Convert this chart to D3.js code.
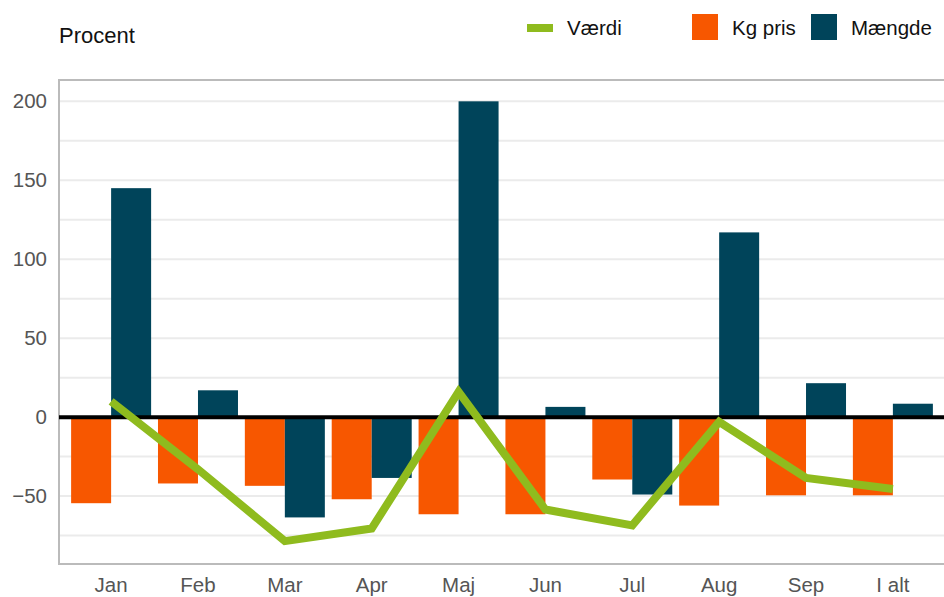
<!DOCTYPE html>
<html>
<head>
<meta charset="utf-8">
<script src="https://cdn.jsdelivr.net/npm/d3@7"></script>
<style>
	body { margin: 0; background: #fff; }
	text { font-family: "Liberation Sans", Arial, sans-serif; }
</style>
</head>
<body>
<svg id="chart" width="944" height="597"></svg>
<script>
let months = ["Jan", "Feb", "Mar", "Apr", "Maj", "Jun", "Jul", "Aug", "Sep", "I alt"];
let kgPris = [-54.5, -42, -43.5, -52, -61.5, -61.5, -39.5, -56, -49.5, -49.5];
let maengde = [145, 17, -63.5, -38.5, 200, 6.5, -49, 117, 21.5, 8.5];
let vaerdi = [10, -33, -78.5, -70.5, 16, -58.5, -68.5, -3, -38.5, -45.5];
let yTicks = [-50, 0, 50, 100, 150, 200];
let gridTicks = [-75, -50, -25, 0, 25, 50, 75, 100, 125, 150, 175, 200];

let svg = d3.select("#chart");

let plotLeft = 59, plotRight = 945, plotTop = 80, plotBottom = 564;

let x = d3.scaleBand().domain(months).range([plotLeft, plotRight]).paddingInner(0).paddingOuter(0.1);
let center = function(d) { return x(d) + x.bandwidth() / 2; };
let barW = 40;

let y = d3.scaleLinear().domain([-93, 213.5]).range([plotBottom, plotTop]);

// grid
svg.append("g").selectAll("line").data(gridTicks).enter().append("line")
	.attr("x1", plotLeft).attr("x2", 944)
	.attr("y1", function(d) { return y(d); }).attr("y2", function(d) { return y(d); })
	.attr("stroke", "#ebebeb").attr("stroke-width", 2);

// frame
svg.append("line").attr("x1", plotLeft).attr("x2", 944).attr("y1", plotTop).attr("y2", plotTop).attr("stroke", "#bbb").attr("stroke-width", 2);
svg.append("line").attr("x1", plotLeft).attr("x2", 944).attr("y1", plotBottom).attr("y2", plotBottom).attr("stroke", "#bbb").attr("stroke-width", 2);
svg.append("line").attr("x1", plotLeft).attr("x2", plotLeft).attr("y1", plotTop - 1).attr("y2", plotBottom + 1).attr("stroke", "#bbb").attr("stroke-width", 2);

// y axis labels
let yAxis = d3.axisLeft(y).tickValues(yTicks).tickSize(0).tickPadding(12)
	.tickFormat(function(d) { return d < 0 ? "\u2212" + Math.abs(d) : d; });
let yg = svg.append("g").attr("transform", "translate(" + plotLeft + ",0)").call(yAxis);
yg.select(".domain").remove();
yg.selectAll("text").attr("font-size", 20.5).attr("fill", "#555").attr("font-family", "Liberation Sans, Arial, sans-serif");

// x axis labels
let xAxis = d3.axisBottom(x).tickSize(0).tickPadding(13);
let xg = svg.append("g").attr("transform", "translate(0," + plotBottom + ")").call(xAxis);
xg.select(".domain").remove();
xg.selectAll("text").attr("font-size", 20.5).attr("fill", "#555").attr("font-family", "Liberation Sans, Arial, sans-serif");

// bars
let bars = svg.append("g");
bars.selectAll(".kg").data(months).enter().append("rect").attr("class", "kg")
	.attr("x", function(d) { return center(d) - barW; })
	.attr("width", barW)
	.attr("y", function(d, i) { return y(Math.max(0, kgPris[i])); })
	.attr("height", function(d, i) { return Math.abs(y(kgPris[i]) - y(0)); })
	.attr("fill", "#f75700");
bars.selectAll(".m").data(months).enter().append("rect").attr("class", "m")
	.attr("x", function(d) { return center(d); })
	.attr("width", barW)
	.attr("y", function(d, i) { return y(Math.max(0, maengde[i])); })
	.attr("height", function(d, i) { return Math.abs(y(maengde[i]) - y(0)); })
	.attr("fill", "#00445a");

// zero line
svg.append("line").attr("x1", plotLeft).attr("x2", 944).attr("y1", y(0)).attr("y2", y(0)).attr("stroke", "#000").attr("stroke-width", 4);

// line
let line = d3.line().x(function(d, i) { return center(months[i]); }).y(function(d) { return y(d); });
svg.append("path").datum(vaerdi).attr("d", line).attr("fill", "none")
	.attr("stroke", "#8fbb1e").attr("stroke-width", 8).attr("stroke-linejoin", "miter");

// title
svg.append("text").attr("x", 59).attr("y", 43).text("Procent").attr("font-size", 22).attr("fill", "#111");

// legend
let legend = svg.append("g");
legend.append("rect").attr("x", 527).attr("y", 24).attr("width", 26).attr("height", 8).attr("fill", "#8fbb1e");
legend.append("text").attr("x", 567).attr("y", 35).text("Værdi").attr("font-size", 20.5).attr("fill", "#111");
legend.append("rect").attr("x", 692).attr("y", 14).attr("width", 26).attr("height", 26).attr("fill", "#f75700");
legend.append("text").attr("x", 732).attr("y", 35).text("Kg pris").attr("font-size", 20.5).attr("fill", "#111");
legend.append("rect").attr("x", 811).attr("y", 14).attr("width", 26).attr("height", 26).attr("fill", "#00445a");
legend.append("text").attr("x", 851).attr("y", 35).text("Mængde").attr("font-size", 20.5).attr("fill", "#111");
</script>
</body>
</html>
